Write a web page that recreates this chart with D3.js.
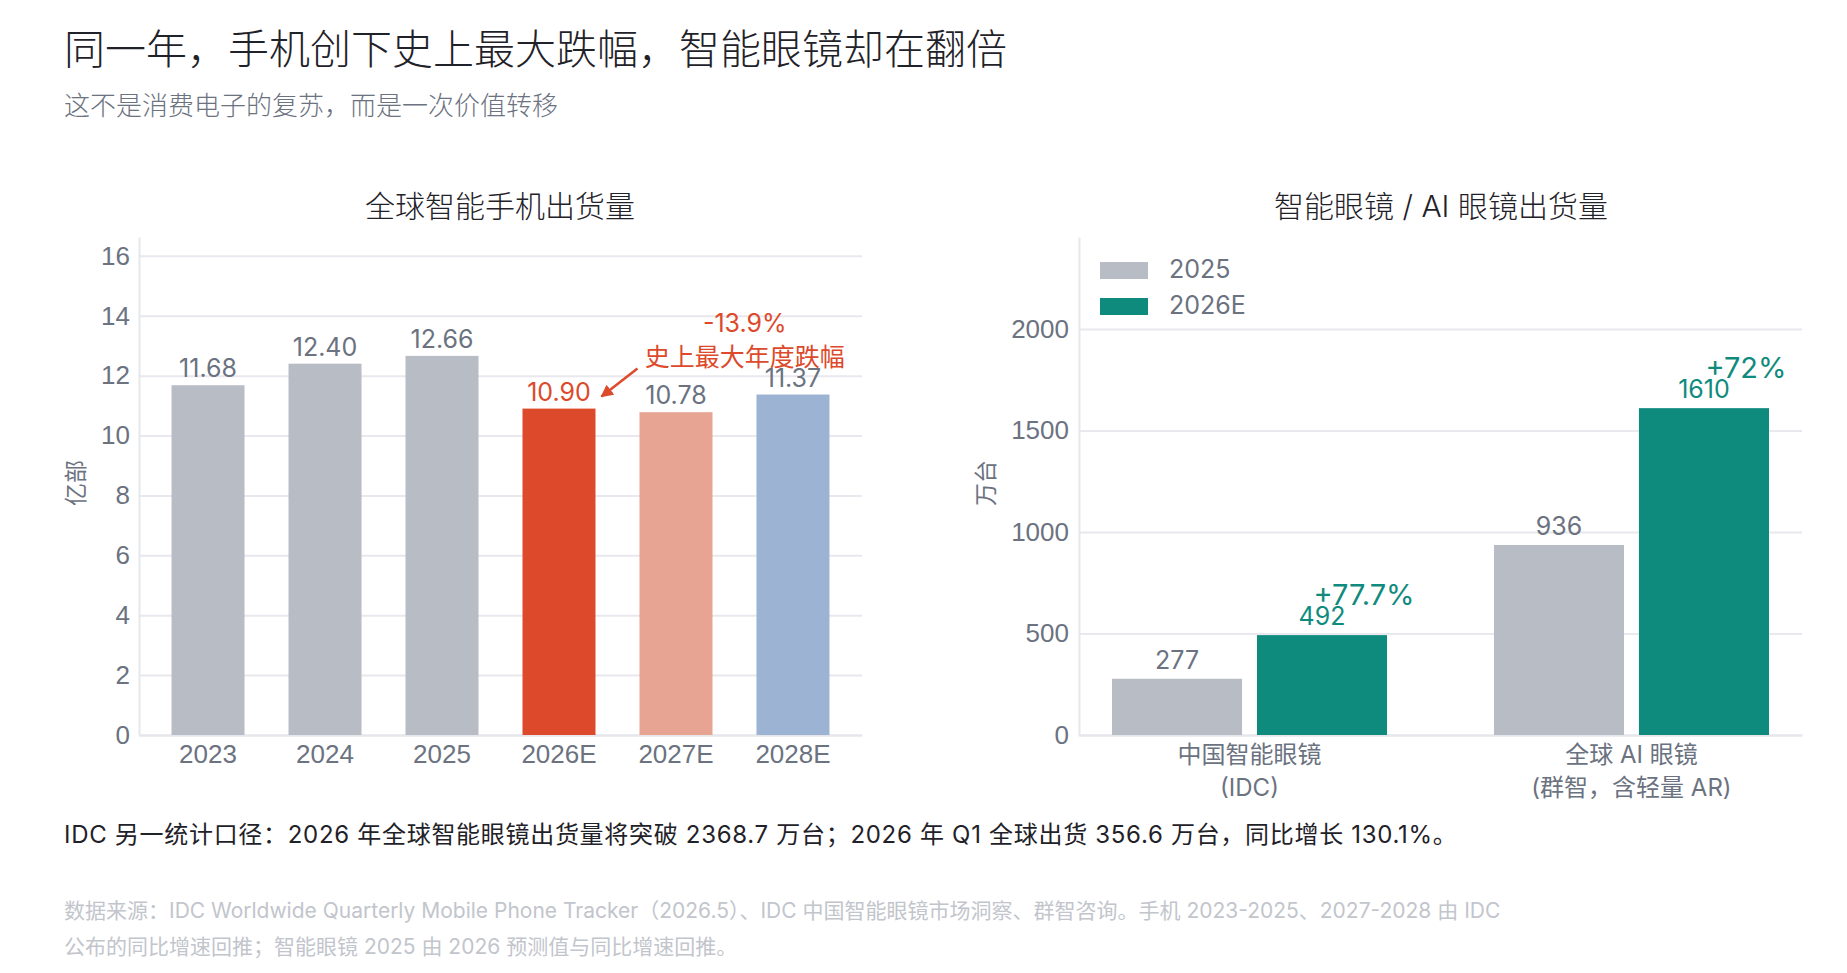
<!DOCTYPE html>
<html>
<head>
<meta charset="utf-8">
<script src="https://cdn.jsdelivr.net/npm/d3@7"></script>
<style>
    html, body { margin: 0; padding: 0; background: #fff; }
    svg { display: block; font-family: Inter, "Noto Sans CJK SC", sans-serif; }
    .grid line { stroke: #e8e8ee; stroke-width: 2; }
    .axis path { stroke: #e6e7ec; stroke-width: 2; }
    .axis text { fill: #6b7280; }
</style>
</head>
<body>
<div id="chart"></div>
<script>
const phoneYears = ["2023", "2024", "2025", "2026E", "2027E", "2028E"];
const phoneShipments = [11.68, 12.40, 12.66, 10.90, 10.78, 11.37];
const phoneTicks = [0, 2, 4, 6, 8, 10, 12, 14, 16];
const phoneDrop = "-13.9%";
const phoneDropNote = "史上最大年度跌幅";

const glassGroups = ["中国智能眼镜", "全球 AI 眼镜"];
const glassGroupNotes = ["(IDC)", "(群智，含轻量 AR)"];
const glassSeries = ["2025", "2026E"];
const glasses2025 = [277, 936];
const glasses2026E = [492, 1610];
const glassGrowth = ["+77.7%", "+72%"];
const glassTicks = [0, 500, 1000, 1500, 2000];

const texts = {
    title: "同一年，手机创下史上最大跌幅，智能眼镜却在翻倍",
    subtitle: "这不是消费电子的复苏，而是一次价值转移",
    leftTitle: "全球智能手机出货量",
    rightTitle: "智能眼镜 / AI 眼镜出货量",
    leftUnit: "亿部",
    rightUnit: "万台",
    note: "IDC 另一统计口径：2026 年全球智能眼镜出货量将突破 2368.7 万台；2026 年 Q1 全球出货 356.6 万台，同比增长 130.1%。",
    source1: "数据来源：IDC Worldwide Quarterly Mobile Phone Tracker（2026.5）、IDC 中国智能眼镜市场洞察、群智咨询。手机 2023-2025、2027-2028 由 IDC",
    source2: "公布的同比增速回推；智能眼镜 2025 由 2026 预测值与同比增速回推。"
};

const colors = {
    gray: "#b8bcc5",
    red: "#dd4a2b",
    salmon: "#e8a493",
    blue: "#9cb3d3",
    teal: "#0f8b7e",
    label: "#6b7280",
    dark: "#1f2228",
    faint: "#c2c5cc"
};
const phoneColor = d => d === "2026E" ? colors.red : d === "2027E" ? colors.salmon : d === "2028E" ? colors.blue : colors.gray;

const W = 1847, H = 973;
const plotTop = 237, plotBottom = 735;

const svg = d3.select("#chart").append("svg")
    .attr("width", W)
    .attr("height", H);

function text(g, str, x, y, size, fill, anchor = "start") {
    return g.append("text")
        .attr("x", x).attr("y", y)
        .attr("font-size", size)
        .attr("fill", fill)
        .attr("text-anchor", anchor)
        .text(str);
}

text(svg, texts.title, 64, 64, 41, colors.dark).attr("font-weight", 300);
text(svg, texts.subtitle, 64, 115, 26, colors.label).attr("font-weight", 300);

// ---- left: smartphones
{
    const x = d3.scaleBand().domain(phoneYears).range([139, 862]).paddingInner(0.376).paddingOuter(0.278);
    const y = d3.scaleLinear().domain([0, 16.63]).range([plotBottom, plotTop]);
    const g = svg.append("g");

    g.append("g").attr("class", "grid")
        .attr("transform", "translate(139,0)")
        .call(d3.axisLeft(y).tickValues(phoneTicks).tickSize(-723).tickFormat(""))
        .call(s => s.select(".domain").remove());

    g.append("g").attr("class", "axis")
        .attr("transform", "translate(139,0)")
        .call(d3.axisLeft(y).tickValues(phoneTicks).tickSize(0).tickPadding(9))
        .call(s => s.selectAll("text").attr("font-size", 26).attr("font-family", null));

    g.append("g").attr("class", "axis")
        .attr("transform", `translate(0,${plotBottom})`)
        .call(d3.axisBottom(x).tickSize(0).tickPadding(10))
        .call(s => s.selectAll("text").attr("font-size", 26).attr("font-family", null));

    g.selectAll("rect.bar").data(phoneYears).join("rect")
        .attr("class", "bar")
        .attr("x", d => x(d))
        .attr("y", (d, i) => y(phoneShipments[i]))
        .attr("width", x.bandwidth())
        .attr("height", (d, i) => y(0) - y(phoneShipments[i]))
        .attr("fill", phoneColor);

    g.selectAll("text.value").data(phoneYears).join("text")
        .attr("class", "value")
        .attr("x", d => x(d) + x.bandwidth() / 2)
        .attr("y", (d, i) => y(phoneShipments[i]) - 8)
        .attr("text-anchor", "middle")
        .attr("font-size", 25)
        .attr("fill", d => d === "2026E" ? colors.red : colors.label)
        .text((d, i) => d3.format(".2f")(phoneShipments[i]));

    text(g, texts.leftTitle, 500, 217, 30, colors.dark, "middle").attr("font-weight", 300);
    text(g, texts.leftUnit, 0, 0, 23, colors.label, "middle")
        .attr("transform", `translate(84,${(plotTop + plotBottom) / 2 - 3}) rotate(-90)`);

    // annotation for the 2026E drop
    const noteX = x("2027E") + x.step() * 0.9;
    text(g, phoneDrop, noteX, y(13.45), 25, colors.red, "middle");
    text(g, phoneDropNote, noteX, y(12.33), 25, colors.red, "middle");

    const tipX = x("2026E") + x.bandwidth() + 6, tipY = y(phoneShipments[3]) - 12;
    svg.append("defs").append("marker")
        .attr("id", "arrow")
        .attr("viewBox", "0 0 10 10")
        .attr("refX", 9).attr("refY", 5)
        .attr("markerWidth", 5).attr("markerHeight", 5)
        .attr("orient", "auto")
        .append("path").attr("d", "M0,0L10,5L0,10z").attr("fill", colors.red);
    g.append("line")
        .attr("x1", tipX + 36).attr("y1", tipY - 28)
        .attr("x2", tipX).attr("y2", tipY)
        .attr("stroke", colors.red)
        .attr("stroke-width", 2.5)
        .attr("marker-end", "url(#arrow)");
}

// ---- right: smart glasses
{
    const x0 = d3.scaleBand().domain(glassGroups).range([1079, 1802]).paddingInner(0.28).paddingOuter(0.0864);
    const x1 = d3.scaleBand().domain(glassSeries).range([0, x0.bandwidth()]).paddingInner(0.103);
    const y = d3.scaleLinear().domain([0, 2453]).range([plotBottom, plotTop]);
    const g = svg.append("g");
    const rows = glassGroups.map((grp, i) => ({ grp, i, values: [glasses2025[i], glasses2026E[i]] }));

    g.append("g").attr("class", "grid")
        .attr("transform", "translate(1079,0)")
        .call(d3.axisLeft(y).tickValues(glassTicks).tickSize(-723).tickFormat(""))
        .call(s => s.select(".domain").remove());

    g.append("g").attr("class", "axis")
        .attr("transform", "translate(1079,0)")
        .call(d3.axisLeft(y).tickValues(glassTicks).tickSize(0).tickPadding(10).tickFormat(d3.format("d")))
        .call(s => s.selectAll("text").attr("font-size", 26).attr("font-family", null));

    g.append("g").attr("class", "axis")
        .attr("transform", `translate(0,${plotBottom})`)
        .call(d3.axisBottom(x0).tickSize(0).tickFormat(""));

    const grp = g.selectAll("g.group").data(rows).join("g")
        .attr("class", "group")
        .attr("transform", d => `translate(${x0(d.grp)},0)`);

    grp.selectAll("rect").data(d => d.values.map((v, k) => ({ s: glassSeries[k], v }))).join("rect")
        .attr("x", d => x1(d.s))
        .attr("y", d => y(d.v))
        .attr("width", x1.bandwidth())
        .attr("height", d => y(0) - y(d.v))
        .attr("fill", d => d.s === "2025" ? colors.gray : colors.teal);

    grp.selectAll("text.value").data(d => d.values.map((v, k) => ({ s: glassSeries[k], v }))).join("text")
        .attr("class", "value")
        .attr("x", d => x1(d.s) + x1.bandwidth() / 2)
        .attr("y", d => y(d.v) - 10)
        .attr("text-anchor", "middle")
        .attr("font-size", 25)
        .attr("fill", d => d.s === "2025" ? colors.label : colors.teal)
        .text(d => d.v);

    grp.append("text")
        .attr("x", x1("2026E") + x1.bandwidth() / 2 + 42)
        .attr("y", d => y(d.values[1]) - 30)
        .attr("text-anchor", "middle")
        .attr("font-size", 29)
        .attr("fill", colors.teal)
        .text(d => glassGrowth[d.i]);

    grp.append("text")
        .attr("x", x0.bandwidth() / 2)
        .attr("y", 763)
        .attr("text-anchor", "middle")
        .attr("font-size", 24)
        .attr("fill", colors.label)
        .text(d => d.grp);

    grp.append("text")
        .attr("x", x0.bandwidth() / 2)
        .attr("y", 796)
        .attr("text-anchor", "middle")
        .attr("font-size", 24)
        .attr("fill", colors.label)
        .text(d => glassGroupNotes[d.i]);

    text(g, texts.rightTitle, 1441, 217, 30, colors.dark, "middle").attr("font-weight", 300);
    text(g, texts.rightUnit, 0, 0, 23, colors.label, "middle")
        .attr("transform", `translate(994,${(plotTop + plotBottom) / 2 - 3}) rotate(-90)`);

    const legend = g.selectAll("g.legend").data(glassSeries).join("g")
        .attr("class", "legend")
        .attr("transform", (d, i) => `translate(1100,${262 + i * 36})`);
    legend.append("rect")
        .attr("width", 48).attr("height", 17)
        .attr("fill", d => d === "2025" ? colors.gray : colors.teal);
    legend.append("text")
        .attr("x", 69).attr("y", 16)
        .attr("font-size", 25)
        .attr("fill", colors.label)
        .text(d => d);
}

text(svg, texts.note, 64, 843, 24, colors.dark).attr("letter-spacing", 0.7);
text(svg, texts.source1, 64, 918, 21, colors.faint);
text(svg, texts.source2, 64, 954, 21, colors.faint);
</script>
</body>
</html>
